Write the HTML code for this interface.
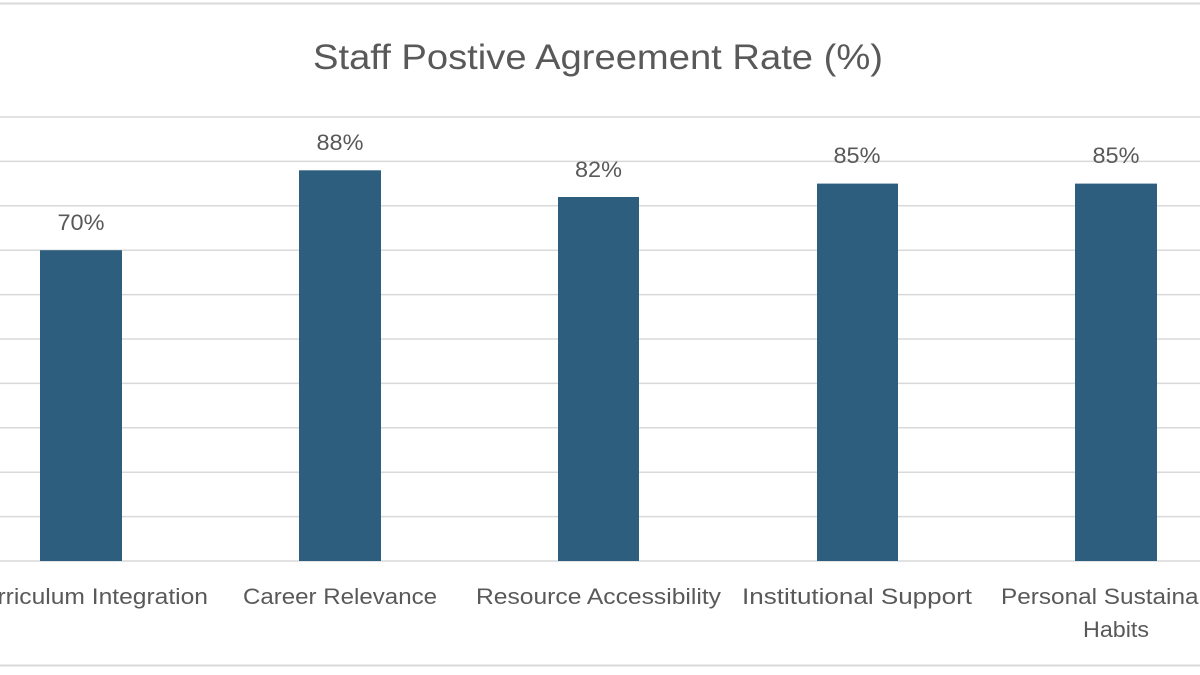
<!DOCTYPE html>
<html><head><style>body{margin:0;background:#fff}svg{display:block}</style></head><body>
<svg width="1200" height="675" xmlns="http://www.w3.org/2000/svg" font-family="'Liberation Sans',sans-serif" fill="#595959">
<rect width="1200" height="675" fill="#fff"/>
<line x1="0" y1="3.5" x2="1200" y2="3.5" stroke="#d9d9d9" stroke-width="2"/>
<line x1="0" y1="665.5" x2="1200" y2="665.5" stroke="#d9d9d9" stroke-width="2"/>
<g stroke="#d9d9d9" stroke-width="1.5">
<line x1="0" x2="1200" y1="117" y2="117"/><line x1="0" x2="1200" y1="161.4" y2="161.4"/>
<line x1="0" x2="1200" y1="205.8" y2="205.8"/><line x1="0" x2="1200" y1="250.2" y2="250.2"/>
<line x1="0" x2="1200" y1="294.6" y2="294.6"/><line x1="0" x2="1200" y1="339" y2="339"/>
<line x1="0" x2="1200" y1="383.4" y2="383.4"/><line x1="0" x2="1200" y1="427.8" y2="427.8"/>
<line x1="0" x2="1200" y1="472.2" y2="472.2"/><line x1="0" x2="1200" y1="516.6" y2="516.6"/>
<line x1="0" x2="1200" y1="561" y2="561"/>
</g>
<text x="598" y="69" text-anchor="middle" font-size="35" textLength="570" lengthAdjust="spacingAndGlyphs">Staff Postive Agreement Rate (%)</text>
<g fill="#2e5e7e">
<rect x="40" y="250.2" width="82" height="310.8"/>
<rect x="299" y="170.3" width="82" height="390.7"/>
<rect x="558" y="197" width="81" height="364"/>
<rect x="817" y="183.6" width="81" height="377.4"/>
<rect x="1075" y="183.6" width="82" height="377.4"/>
</g>
<g font-size="22" text-anchor="middle">
<text x="81" y="230" textLength="47" lengthAdjust="spacingAndGlyphs">70%</text>
<text x="340" y="150" textLength="47" lengthAdjust="spacingAndGlyphs">88%</text>
<text x="598.5" y="177" textLength="47" lengthAdjust="spacingAndGlyphs">82%</text>
<text x="857" y="163" textLength="47" lengthAdjust="spacingAndGlyphs">85%</text>
<text x="1116" y="163" textLength="47" lengthAdjust="spacingAndGlyphs">85%</text>
</g>
<g font-size="22" text-anchor="middle">
<text x="87" y="604" textLength="242" lengthAdjust="spacingAndGlyphs">Curriculum Integration</text>
<text x="340" y="604" textLength="194" lengthAdjust="spacingAndGlyphs">Career Relevance</text>
<text x="598.5" y="604" textLength="245" lengthAdjust="spacingAndGlyphs">Resource Accessibility</text>
<text x="857" y="604" textLength="230" lengthAdjust="spacingAndGlyphs">Institutional Support</text>
<text x="1116" y="604" textLength="230" lengthAdjust="spacingAndGlyphs">Personal Sustainable</text>
<text x="1116" y="637" textLength="66" lengthAdjust="spacingAndGlyphs">Habits</text>
</g>
</svg>
</body></html>
